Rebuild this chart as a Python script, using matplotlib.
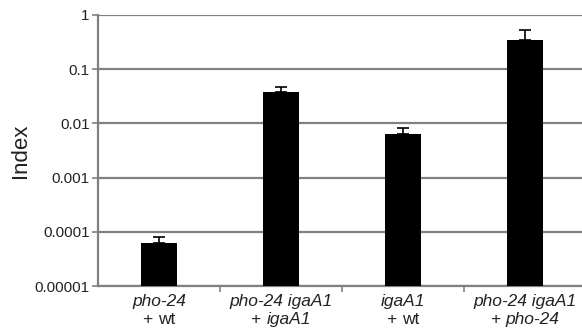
import matplotlib
matplotlib.use("Agg")
import matplotlib.pyplot as plt
from matplotlib.offsetbox import TextArea, HPacker, VPacker, AnnotationBbox
import matplotlib.transforms as mtransforms

plt.rcParams['font.family'] = ['Liberation Sans', 'DejaVu Sans']

# Data
line1 = ["pho-24", "pho-24 igaA1", "igaA1", "pho-24 igaA1"]
line2_names = ["wt", "igaA1", "wt", "pho-24"]
line2_italic = [False, True, False, True]
values = [6.2e-5, 0.038, 0.0063, 0.35]
err_up = [1.7e-5, 0.009, 0.002, 0.17]
yticks = [1e-5, 1e-4, 1e-3, 1e-2, 1e-1, 1]
ytick_labels = ["0.00001", "0.0001", "0.001", "0.01", "0.1", "1"]

txtcol = '#222222'
fig = plt.figure(figsize=(5.82, 3.33), dpi=100)
ax = fig.add_axes([98/582, 1 - 286/333, 1 - 98/582, (286 - 15)/333])

x = list(range(len(values)))
ax.bar(x, values, width=0.3, color='black', zorder=3)
ax.errorbar(x, values, yerr=[[0]*len(values), err_up], fmt='none',
            ecolor='black', elinewidth=1.2, capsize=4, capthick=1.2, zorder=4)

ax.set_yscale('log')
ax.set_ylim(1e-5, 1)
ax.set_xlim(-0.5, 3.467)
ax.set_yticks(yticks)
ax.set_yticklabels(ytick_labels, fontsize=11, color=txtcol)
ax.yaxis.set_minor_locator(matplotlib.ticker.NullLocator())
ax.yaxis.grid(True, color='#808080', linewidth=1.6, zorder=0)
ax.set_axisbelow(True)

ax.set_xticks([0.5, 1.5, 2.5])
ax.set_xticklabels([])
ax.tick_params(axis='x', direction='out', length=4, width=1.2, color='#808080')
ax.tick_params(axis='y', direction='out', length=4, width=1.2, color='#808080', pad=2)

for s in ['top', 'right']:
    ax.spines[s].set_visible(False)
for s in ['left', 'bottom']:
    ax.spines[s].set_color('#808080')
    ax.spines[s].set_linewidth(1.6)

ax.set_ylabel("Index", fontsize=16, color=txtcol)
ax.yaxis.set_label_coords(-0.138, 0.5)

trans = mtransforms.blended_transform_factory(ax.transData, ax.transAxes)
fs = 12.5
for i in range(len(values)):
    t1 = TextArea(line1[i], textprops=dict(fontsize=fs, style='italic', color=txtcol))
    plus = TextArea("+ ", textprops=dict(fontsize=fs, color=txtcol))
    nm = TextArea(line2_names[i], textprops=dict(fontsize=fs, color=txtcol,
                  style='italic' if line2_italic[i] else 'normal'))
    l2 = HPacker(children=[plus, nm], align="baseline", pad=0, sep=0)
    box = VPacker(children=[t1, l2], align="center", pad=0, sep=2)
    ab = AnnotationBbox(box, (i, 0), xycoords=trans, xybox=(0, -6),
                        boxcoords="offset points", box_alignment=(0.5, 1),
                        frameon=False, annotation_clip=False)
    ax.add_artist(ab)

fig.savefig("out.png", dpi=100)
